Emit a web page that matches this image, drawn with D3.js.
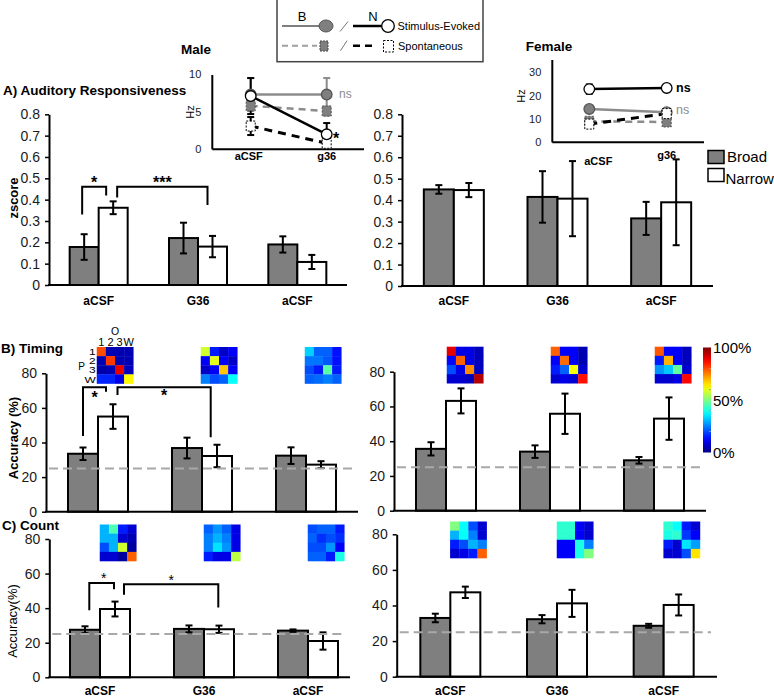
<!DOCTYPE html>
<html><head><meta charset="utf-8">
<script src="https://cdn.jsdelivr.net/npm/d3@7"></script>
<style>body{margin:0;background:#fff}svg{display:block}</style>
</head><body><script>
// ---------- DATA ----------
const groups = ["aCSF", "G36", "aCSF"];
const seriesKeys = ["B", "N"];
const zTicks = [0, 0.1, 0.2, 0.3, 0.4, 0.5, 0.6, 0.7, 0.8];
const accTicks = [0, 20, 40, 60, 80];
const chanceLevel = 25;

const respMaleBroad = [0.178, 0.22, 0.19];
const respMaleBroadErr = [0.06, 0.072, 0.038];
const respMaleNarrow = [0.362, 0.18, 0.108];
const respMaleNarrowErr = [0.03, 0.05, 0.033];
const respFemaleBroad = [0.45, 0.415, 0.315];
const respFemaleBroadErr = [0.02, 0.12, 0.077];
const respFemaleNarrow = [0.447, 0.407, 0.39];
const respFemaleNarrowErr = [0.033, 0.175, 0.2];

const timingMaleBroad = [33.5, 36.8, 32.4];
const timingMaleBroadErr = [3.6, 6.0, 4.8];
const timingMaleNarrow = [55, 32.2, 27.2];
const timingMaleNarrowErr = [7.1, 6.5, 2.0];
const timingFemaleBroad = [35.6, 34, 29];
const timingFemaleBroadErr = [3.8, 3.6, 1.9];
const timingFemaleNarrow = [63.2, 55.8, 53];
const timingFemaleNarrowErr = [7.2, 11.6, 12.2];

const countMaleBroad = [27.5, 28, 27];
const countMaleBroadErr = [2, 2, 0.7];
const countMaleNarrow = [39.5, 27.8, 21];
const countMaleNarrowErr = [4.3, 2.1, 5];
const countFemaleBroad = [33, 32.3, 28.6];
const countFemaleBroadErr = [2.4, 2.3, 1.1];
const countFemaleNarrow = [47.4, 41.2, 40.3];
const countFemaleNarrowErr = [3.2, 7.6, 5.9];

// confusion matrices (rows P = 1,2,3,W ; cols O = 1,2,3,W), values 0..1
const hmTimingMale = [
  [[0.80,0.05,0.05,0.05],[0.05,0.82,0.05,0.05],[0.04,0.05,0.90,0.06],[0.16,0.16,0.10,0.63]],
  [[0.58,0.15,0.07,0.12],[0.12,0.60,0.12,0.07],[0.07,0.12,0.68,0.12],[0.25,0.20,0.22,0.38]],
  [[0.33,0.22,0.22,0.14],[0.24,0.24,0.21,0.14],[0.20,0.15,0.46,0.15],[0.22,0.23,0.25,0.22]]
];
const hmTimingFemale = [
  [[0.90,0.10,0.10,0.06],[0.13,0.78,0.10,0.06],[0.20,0.10,0.74,0.06],[0.08,0.08,0.06,0.95]],
  [[0.78,0.12,0.12,0.05],[0.12,0.77,0.12,0.05],[0.15,0.22,0.62,0.08],[0.08,0.10,0.08,0.86]],
  [[0.79,0.12,0.12,0.06],[0.15,0.70,0.12,0.06],[0.27,0.32,0.47,0.08],[0.08,0.08,0.10,0.87]]
];
const hmCountMale = [
  [[0.30,0.45,0.15,0.08],[0.30,0.30,0.08,0.05],[0.20,0.30,0.58,0.03],[0.08,0.08,0.03,0.78]],
  [[0.22,0.27,0.22,0.10],[0.25,0.30,0.25,0.10],[0.25,0.35,0.27,0.10],[0.15,0.10,0.10,0.56]],
  [[0.20,0.22,0.22,0.15],[0.22,0.17,0.20,0.17],[0.20,0.20,0.27,0.12],[0.22,0.22,0.15,0.40]]
];
const hmCountFemale = [
  [[0.50,0.38,0.20,0.08],[0.30,0.38,0.25,0.08],[0.15,0.20,0.30,0.25],[0.08,0.10,0.15,0.78]],
  [[0.42,0.42,0.12,0.08],[0.42,0.42,0.12,0.08],[0.12,0.12,0.40,0.25],[0.12,0.12,0.40,0.50]],
  [[0.42,0.38,0.15,0.08],[0.40,0.42,0.18,0.12],[0.15,0.08,0.35,0.28],[0.08,0.08,0.20,0.65]]
];
const hmRowLabels = ["1", "2", "3", "W"];
const hmColLabels = ["1", "2", "3", "W"];
const colorbarLabels = [[1, "100%"], [0.5, "50%"], [0, "0%"]];

// inset firing rates (Hz)
const hzGroups = ["aCSF", "g36"];
const maleEvokedBroad = [7.3, 7.3], maleEvokedBroadErr = [2.2, 2.2];
const maleEvokedNarrow = [7.1, 2.0], maleEvokedNarrowErr = [2.4, 1.5];
const maleSpontBroad = [5.8, 5.1], maleSpontBroadErr = [0.6, 0.6];
const maleSpontNarrow = [3.1, 0.8], maleSpontNarrowErr = [1.2, 0.4];
const femaleEvokedBroad = [14.3, 12.9], femaleEvokedBroadErr = [0.8, 0.8];
const femaleEvokedNarrow = [22.8, 23.3], femaleEvokedNarrowErr = [2.0, 0.5];
const femaleSpontBroad = [9.0, 8.7], femaleSpontBroadErr = [0.6, 0.6];
const femaleSpontNarrow = [7.8, 12.3], femaleSpontNarrowErr = [1.2, 1.2];
const maleHzTicks = [0, 5, 10];
const femaleHzTicks = [0, 10, 20, 30];

// ---------- SETUP ----------
const FONT = "'Liberation Sans', Arial, sans-serif";
const GRAY = "#7f7f7f";
const svg = d3.select("body").append("svg").attr("width", 774).attr("height", 697)
  .style("font-family", FONT);

function jet(t) {
  const c = v => Math.round(255 * Math.max(0, Math.min(1, v)));
  return `rgb(${c(1.5 - Math.abs(4 * t - 3))},${c(1.5 - Math.abs(4 * t - 2))},${c(1.5 - Math.abs(4 * t - 1))})`;
}

function txt(g, x, y, s, size, opts = {}) {
  const t = g.append("text").attr("x", x).attr("y", y).text(s)
    .attr("font-size", size).attr("fill", opts.fill || "#000")
    .attr("font-weight", opts.weight || "normal")
    .attr("text-anchor", opts.anchor || "start");
  if (opts.rotate) t.attr("transform", `rotate(-90,${x},${y})`);
  return t;
}

function heatmap(g, cx, top, size, mat) {
  const cs = d3.scaleBand().domain(d3.range(4)).range([cx - size / 2, cx + size / 2]);
  const rs = d3.scaleBand().domain(d3.range(4)).range([top, top + size]);
  mat.forEach((row, r) => row.forEach((v, c) => {
    g.append("rect").attr("x", cs(c)).attr("y", rs(r))
      .attr("width", cs.bandwidth() + 0.3).attr("height", rs.bandwidth() + 0.3)
      .attr("fill", jet(v));
  }));
  return { cs, rs };
}

function barPanel(o) {
  const g = svg.append("g");
  const step = (o.r1 - o.r0) / groups.length;
  const pad = 1 - 2 * o.barW / step;
  const x0 = d3.scaleBand().domain(d3.range(groups.length)).range([o.r0, o.r1])
    .paddingInner(pad).paddingOuter(pad / 2);
  const x1 = d3.scaleBand().domain(seriesKeys).range([0, x0.bandwidth()]);
  const y = d3.scaleLinear().domain([0, o.yMax]).range([o.y0, o.yTop]);
  const rows = groups.map((_, i) => [
    { s: "B", v: o.broad[i], e: o.broadErr[i] },
    { s: "N", v: o.narrow[i], e: o.narrowErr[i] }]);

  const gg = g.selectAll("g.grp").data(rows).enter().append("g")
    .attr("transform", (d, i) => `translate(${x0(i)},0)`);
  gg.selectAll("rect").data(d => d).enter().append("rect")
    .attr("x", d => x1(d.s)).attr("y", d => y(d.v))
    .attr("width", x1.bandwidth()).attr("height", d => o.y0 - y(d.v))
    .attr("fill", d => d.s === "B" ? GRAY : "#fff")
    .attr("stroke", "#000").attr("stroke-width", 2);

  if (o.chance) {
    g.append("line").attr("x1", o.left + 3).attr("x2", o.lineEnd - 6)
      .attr("y1", y(chanceLevel)).attr("y2", y(chanceLevel))
      .attr("stroke", "#a8a8a8").attr("stroke-width", 2).attr("stroke-dasharray", "9,5");
  }
  const eb = gg.selectAll("g.eb").data(d => d).enter().append("g")
    .attr("stroke", "#000").attr("stroke-width", 2);
  const cxs = d => x1(d.s) + x1.bandwidth() / 2;
  eb.append("line").attr("x1", cxs).attr("x2", cxs).attr("y1", d => y(d.v + d.e)).attr("y2", d => y(d.v - d.e));
  eb.append("line").attr("x1", d => cxs(d) - 3.5).attr("x2", d => cxs(d) + 3.5).attr("y1", d => y(d.v + d.e)).attr("y2", d => y(d.v + d.e));
  eb.append("line").attr("x1", d => cxs(d) - 3.5).attr("x2", d => cxs(d) + 3.5).attr("y1", d => y(d.v - d.e)).attr("y2", d => y(d.v - d.e));

  const ax = g.append("g").attr("transform", `translate(${o.left},0)`)
    .call(d3.axisLeft(y).tickValues(o.ticks).tickFormat(o.fmt).tickSize(4).tickSizeOuter(0).tickPadding(5));
  ax.attr("font-family", FONT).attr("font-size", 14);
  ax.select(".domain").attr("stroke", "#000").attr("stroke-width", 2);
  ax.selectAll(".tick line").attr("stroke", "#000").attr("stroke-width", 1.5);
  ax.selectAll(".tick text").attr("fill", "#1a1a1a");

  g.append("line").attr("x1", o.left - 1).attr("x2", o.lineEnd).attr("y1", o.y0).attr("y2", o.y0)
    .attr("stroke", "#000").attr("stroke-width", 2);
  if (o.labelY) {
    const xa = g.append("g").attr("transform", `translate(0,${o.y0})`)
      .call(d3.axisBottom(x0).tickFormat(i => groups[i]).tickSize(0).tickPadding(o.labelY - o.y0 - 0.71 * 12));
    xa.attr("font-family", FONT).attr("font-size", 12).attr("font-weight", "bold");
    xa.select(".domain").remove();
    xa.selectAll(".tick text").attr("fill", "#000");
  }
  if (o.heatmaps) {
    o.heatmaps.forEach((m, i) => {
      const cx = x0(i) + x1("N") + x1.bandwidth() / 2 + o.hmDx;
      heatmap(g, cx, o.hmTop, 36.5, m);
    });
  }
  return { g, x0, x1, y };
}

function bracket(p, b) {
  const lx = p.x0(b.L[0]) + p.x1(b.L[1]) + p.x1.bandwidth() / 2 + b.L[2];
  const rx = p.x0(b.R[0]) + p.x1(b.R[1]) + p.x1.bandwidth() / 2 + b.R[2];
  const path = d3.path();
  path.moveTo(lx, p.y(b.L[3]));
  path.lineTo(lx, p.y(b.top));
  path.lineTo(rx, p.y(b.top));
  path.lineTo(rx, p.y(b.R[3]));
  p.g.append("path").attr("d", path.toString()).attr("fill", "none")
    .attr("stroke", "#000").attr("stroke-width", 2);
  txt(p.g, (lx + rx) / 2 + (b.lx || 0), p.y(b.labelY) + 0.58 * b.size, b.label, b.size,
    { anchor: "middle", weight: b.weight || "bold" });
}

const zFmt = d => d === 0 ? "0" : d3.format(".1f")(d);
const accFmt = d3.format("d");

// ---------- PANEL A ----------
const pAL = barPanel({ left: 49, r0: 49, r1: 347, lineEnd: 347, y0: 285, yTop: 114.3, yMax: 0.8,
  barW: 29, broad: respMaleBroad, broadErr: respMaleBroadErr, narrow: respMaleNarrow,
  narrowErr: respMaleNarrowErr, ticks: zTicks, fmt: zFmt, labelY: 305 });
const pAR = barPanel({ left: 402, r0: 402, r1: 713, lineEnd: 713, y0: 286, yTop: 114.3, yMax: 0.8,
  barW: 30, broad: respFemaleBroad, broadErr: respFemaleBroadErr, narrow: respFemaleNarrow,
  narrowErr: respFemaleNarrowErr, ticks: zTicks, fmt: zFmt, labelY: 305 });
bracket(pAL, { L: [0, "B", -2, 0.33], R: [0, "N", -7, 0.42], top: 0.46, label: "*", labelY: 0.50, size: 16 });
bracket(pAL, { L: [0, "N", 4, 0.41], R: [1, "N", -5, 0.375], top: 0.46, label: "***", labelY: 0.50, size: 16 });

// ---------- PANEL B ----------
const pBL = barPanel({ left: 46, r0: 46, r1: 358, lineEnd: 358, y0: 511.7, yTop: 373.3, yMax: 80,
  barW: 30, broad: timingMaleBroad, broadErr: timingMaleBroadErr, narrow: timingMaleNarrow,
  narrowErr: timingMaleNarrowErr, ticks: accTicks, fmt: accFmt, chance: true,
  heatmaps: hmTimingMale, hmTop: 347, hmDx: 2 });
const pBR = barPanel({ left: 394, r0: 394, r1: 706, lineEnd: 706, y0: 510.7, yTop: 371.7, yMax: 80,
  barW: 30, broad: timingFemaleBroad, broadErr: timingFemaleBroadErr, narrow: timingFemaleNarrow,
  narrowErr: timingFemaleNarrowErr, ticks: accTicks, fmt: accFmt, chance: true,
  heatmaps: hmTimingFemale, hmTop: 346.7, hmDx: 4 });
bracket(pBL, { L: [0, "B", 0, 43.8], R: [0, "N", -7, 69.4], top: 71.9, label: "*", labelY: 68.3, size: 16 });
bracket(pBL, { L: [0, "N", 4.5, 67.5], R: [1, "N", -6.3, 43], top: 71.9, label: "*", labelY: 69.3, size: 16 });

// ---------- PANEL C ----------
const pCL = barPanel({ left: 49.3, r0: 48, r1: 360, lineEnd: 350, y0: 677.3, yTop: 539, yMax: 80,
  barW: 30, broad: countMaleBroad, broadErr: countMaleBroadErr, narrow: countMaleNarrow,
  narrowErr: countMaleNarrowErr, ticks: accTicks, fmt: accFmt, chance: true, labelY: 695,
  heatmaps: hmCountMale, hmTop: 524.5, hmDx: 3 });
const pCR = barPanel({ left: 396.7, r0: 397, r1: 717, lineEnd: 717, y0: 676.7, yTop: 534.3, yMax: 80,
  barW: 30, broad: countFemaleBroad, broadErr: countFemaleBroadErr, narrow: countFemaleNarrow,
  narrowErr: countFemaleNarrowErr, ticks: accTicks, fmt: accFmt, chance: true, labelY: 695,
  heatmaps: hmCountFemale, hmTop: 521.5, hmDx: 3 });
bracket(pCL, { L: [0, "B", 4.3, 38.8], R: [0, "N", -1, 51], top: 54.6, label: "*", labelY: 59.2, size: 14, weight: "normal", lx: 2 });
bracket(pCL, { L: [0, "N", 9, 47.7], R: [1, "N", -0.7, 40.4], top: 53.8, label: "*", labelY: 58, size: 14, weight: "normal" });

// ---------- heatmap axis labels (first timing matrix) ----------
{
  const cx = pBL.x0(0) + pBL.x1("N") + pBL.x1.bandwidth() / 2 + 2;
  const cs = d3.scaleBand().domain(d3.range(4)).range([cx - 18.25, cx + 18.25]);
  const rs = d3.scaleBand().domain(d3.range(4)).range([347, 383.5]);
  const g = pBL.g;
  txt(g, cx, 334.5, "O", 10.5, { anchor: "middle" });
  hmColLabels.forEach((l, i) => txt(g, cs(i) + cs.bandwidth() / 2, 346, l, 11, { anchor: "middle" }));
  // row labels are vertically squashed in the original figure
  hmRowLabels.forEach((l, i) => {
    g.append("text").attr("transform", `translate(${cs(0) - 1},${rs(i) + rs.bandwidth() / 2 + 3.6}) scale(1,0.7)`)
      .attr("font-size", 12).attr("text-anchor", "end").attr("fill", "#000").text(l);
  });
  txt(g, 85, 369.5, "P", 10, { anchor: "end" });
}

// ---------- colorbar ----------
{
  const defs = svg.append("defs");
  const lg = defs.append("linearGradient").attr("id", "jet").attr("x1", 0).attr("x2", 0).attr("y1", 1).attr("y2", 0);
  d3.range(0, 1.0001, 0.05).forEach(t => lg.append("stop").attr("offset", t).attr("stop-color", jet(t)));
  const cb = d3.scaleLinear().domain([0, 1]).range([452.5, 347.5]);
  svg.append("rect").attr("x", 703).attr("y", cb(1)).attr("width", 8).attr("height", cb(0) - cb(1))
    .attr("fill", "url(#jet)");
  [0.2, 0.4, 0.6, 0.8].forEach(t => svg.append("line").attr("x1", 709).attr("x2", 711)
    .attr("y1", cb(t)).attr("y2", cb(t)).attr("stroke", "#999").attr("stroke-width", 0.8));
  colorbarLabels.forEach(([t, l]) => txt(svg, 713, cb(t) + 5.5, l, 15));
}

// ---------- titles & labels ----------
txt(svg, 3, 95, "A) Auditory Responsiveness", 13.5, { weight: "bold" });
txt(svg, 1, 353, "B) Timing", 13.5, { weight: "bold" });
txt(svg, 2, 530, "C) Count", 13.5, { weight: "bold" });
txt(svg, 18, 198, "zscore", 13, { weight: "bold", anchor: "middle", rotate: true });
txt(svg, 17.5, 438, "Accuracy (%)", 13, { weight: "bold", anchor: "middle", rotate: true });
txt(svg, 17, 621, "Accuracy(%)", 13, { anchor: "middle", rotate: true });
txt(svg, 196, 54, "Male", 13.5, { weight: "bold", anchor: "middle" });
txt(svg, 549, 51, "Female", 13.5, { weight: "bold", anchor: "middle" });

// Broad/Narrow legend
svg.append("rect").attr("x", 708).attr("y", 150.5).attr("width", 16).attr("height", 13)
  .attr("fill", GRAY).attr("stroke", "#000").attr("stroke-width", 1.5);
svg.append("rect").attr("x", 708).attr("y", 168.5).attr("width", 16).attr("height", 13)
  .attr("fill", "#fff").attr("stroke", "#000").attr("stroke-width", 1.5);
txt(svg, 727, 162, "Broad", 15);
txt(svg, 725.5, 184, "Narrow", 15);

// ---------- top legend box ----------
{
  const g = svg.append("g");
  g.append("rect").attr("x", 277).attr("y", -5).attr("width", 206).attr("height", 66.7)
    .attr("fill", "#fff").attr("stroke", "#444").attr("stroke-width", 1.5);
  txt(g, 302, 20.7, "B", 13, { anchor: "middle" });
  txt(g, 373, 20.7, "N", 13, { anchor: "middle" });
  g.append("line").attr("x1", 282).attr("x2", 320).attr("y1", 26).attr("y2", 26).attr("stroke", GRAY).attr("stroke-width", 2);
  g.append("ellipse").attr("cx", 326).attr("cy", 26).attr("rx", 7).attr("ry", 6).attr("fill", GRAY).attr("stroke", "#555").attr("stroke-width", 1);
  g.append("line").attr("x1", 340).attr("x2", 348).attr("y1", 31.5).attr("y2", 21.5).attr("stroke", "#777").attr("stroke-width", 1);
  g.append("line").attr("x1", 353).attr("x2", 382).attr("y1", 26).attr("y2", 26).attr("stroke", "#000").attr("stroke-width", 2.5);
  g.append("circle").attr("cx", 388).attr("cy", 26).attr("r", 6.3).attr("fill", "#fff").attr("stroke", "#000").attr("stroke-width", 1.3);
  txt(g, 397.5, 30, "Stimulus-Evoked", 11);
  g.append("line").attr("x1", 282).attr("x2", 317).attr("y1", 45.7).attr("y2", 45.7).attr("stroke", "#a0a0a0").attr("stroke-width", 2).attr("stroke-dasharray", "6,4");
  g.append("rect").attr("x", 320).attr("y", 41).attr("width", 8).attr("height", 10).attr("fill", GRAY).attr("stroke", "#444").attr("stroke-width", 1).attr("stroke-dasharray", "2,1");
  g.append("line").attr("x1", 340.5).attr("x2", 347).attr("y1", 50.7).attr("y2", 40.7).attr("stroke", "#777").attr("stroke-width", 1);
  g.append("line").attr("x1", 353).attr("x2", 376).attr("y1", 45.7).attr("y2", 45.7).attr("stroke", "#000").attr("stroke-width", 2.5).attr("stroke-dasharray", "7,5");
  g.append("rect").attr("x", 383.5).attr("y", 40.5).attr("width", 10).attr("height", 11.5).attr("fill", "#fff").attr("stroke", "#000").attr("stroke-width", 1).attr("stroke-dasharray", "2,1.5");
  txt(g, 398, 50, "Spontaneous", 11);
}

// ---------- insets ----------
function inset(o) {
  const g = svg.append("g");
  const x = d3.scalePoint().domain(hzGroups).range([o.xa, o.xb]);
  const y = d3.scaleLinear().domain([0, o.max]).range([o.y0, o.yTop]);
  const ax = g.append("g").attr("transform", `translate(${o.left},0)`)
    .call(d3.axisLeft(y).tickValues(o.ticks).tickSize(0).tickPadding(o.pad));
  ax.attr("font-family", FONT).attr("font-size", 11);
  ax.select(".domain").remove();
  ax.selectAll(".tick text").attr("fill", "#222");
  g.append("line").attr("x1", o.left).attr("x2", o.left).attr("y1", o.y0).attr("y2", o.axTop).attr("stroke", "#000").attr("stroke-width", 2);
  g.append("line").attr("x1", o.left).attr("x2", o.right).attr("y1", o.y0).attr("y2", o.y0).attr("stroke", "#000").attr("stroke-width", 2);
  txt(g, o.hzX, o.hzY, "Hz", 11, { anchor: "middle", rotate: true });
  hzGroups.forEach((h, i) => txt(g, x(h) + o.lblDx[i], o.lblY[i], h, 11, { anchor: "middle", weight: "bold" }));

  const line = d3.line().x((d, i) => x(hzGroups[i])).y(d => y(d));
  o.series.forEach(s => s.vals.forEach((v, i) => {
    const cx = x(hzGroups[i]);
    const e = s.err[i];
    const eg = g.append("g").attr("stroke", s.color).attr("stroke-width", 2);
    eg.append("line").attr("x1", cx).attr("x2", cx).attr("y1", y(v + e)).attr("y2", y(v - e));
    eg.append("line").attr("x1", cx - 3.5).attr("x2", cx + 3.5).attr("y1", y(v + e)).attr("y2", y(v + e));
    eg.append("line").attr("x1", cx - 3.5).attr("x2", cx + 3.5).attr("y1", y(v - e)).attr("y2", y(v - e));
  }));
  o.series.forEach(s => {
    g.append("path").attr("d", line(s.vals)).attr("fill", "none").attr("stroke", s.color)
      .attr("stroke-width", s.width).attr("stroke-dasharray", s.dash || null);
  });
  o.series.forEach(s => s.vals.forEach((v, i) => {
    const cx = x(hzGroups[i]), cy = y(v);
    if (s.marker === "circle") {
      g.append("circle").attr("cx", cx).attr("cy", cy).attr("r", 5.3).attr("fill", s.fill)
        .attr("stroke", s.fill === "#fff" ? "#000" : "#555").attr("stroke-width", 1.3);
    } else {
      g.append("rect").attr("x", cx - 4.5).attr("y", cy - 5).attr("width", 9).attr("height", 10)
        .attr("fill", s.fill).attr("stroke", s.fill === "#fff" ? "#000" : "#555")
        .attr("stroke-width", 1).attr("stroke-dasharray", "2,1.5");
    }
  }));
  o.notes.forEach(n => txt(g, n.x, n.y, n.t, n.size, { fill: n.fill, weight: n.weight }));
}

inset({ left: 212.3, right: 364, xa: 250.7, xb: 326.7, y0: 149.3, yTop: 74.3, axTop: 75, max: 10,
  ticks: maleHzTicks, pad: 11, hzX: 194, hzY: 112, lblDx: [-2, 0], lblY: [160, 160],
  series: [
    { vals: maleSpontBroad, err: maleSpontBroadErr, color: "#8c8c8c", width: 2.5, dash: "7,5", marker: "square", fill: GRAY },
    { vals: maleSpontNarrow, err: maleSpontNarrowErr, color: "#000", width: 3, dash: "8,6", marker: "square", fill: "#fff" },
    { vals: maleEvokedBroad, err: maleEvokedBroadErr, color: "#8c8c8c", width: 2.5, marker: "circle", fill: GRAY },
    { vals: maleEvokedNarrow, err: maleEvokedNarrowErr, color: "#000", width: 2.5, marker: "circle", fill: "#fff" }],
  notes: [{ x: 339, y: 98, t: "ns", size: 12, fill: "#8c8c8c" },
          { x: 333, y: 143.5, t: "*", size: 16, fill: "#000", weight: "bold" }] });

inset({ left: 552.3, right: 704, xa: 589.3, xb: 666.7, y0: 142.3, yTop: 72.3, axTop: 60, max: 30,
  ticks: femaleHzTicks, pad: 11, hzX: 525, hzY: 96, lblDx: [9, 0], lblY: [165, 159],
  series: [
    { vals: femaleSpontBroad, err: femaleSpontBroadErr, color: "#8c8c8c", width: 2.5, dash: "7,5", marker: "square", fill: GRAY },
    { vals: femaleEvokedBroad, err: femaleEvokedBroadErr, color: "#8c8c8c", width: 2.5, marker: "circle", fill: GRAY },
    { vals: femaleSpontNarrow, err: femaleSpontNarrowErr, color: "#000", width: 3, dash: "8,6", marker: "square", fill: "#fff" },
    { vals: femaleEvokedNarrow, err: femaleEvokedNarrowErr, color: "#000", width: 2.5, marker: "circle", fill: "#fff" }],
  notes: [{ x: 676, y: 92, t: "ns", size: 12.5, fill: "#000", weight: "bold" },
          { x: 676, y: 114, t: "ns", size: 12.5, fill: "#8c8c8c" }] });
</script></body></html>
